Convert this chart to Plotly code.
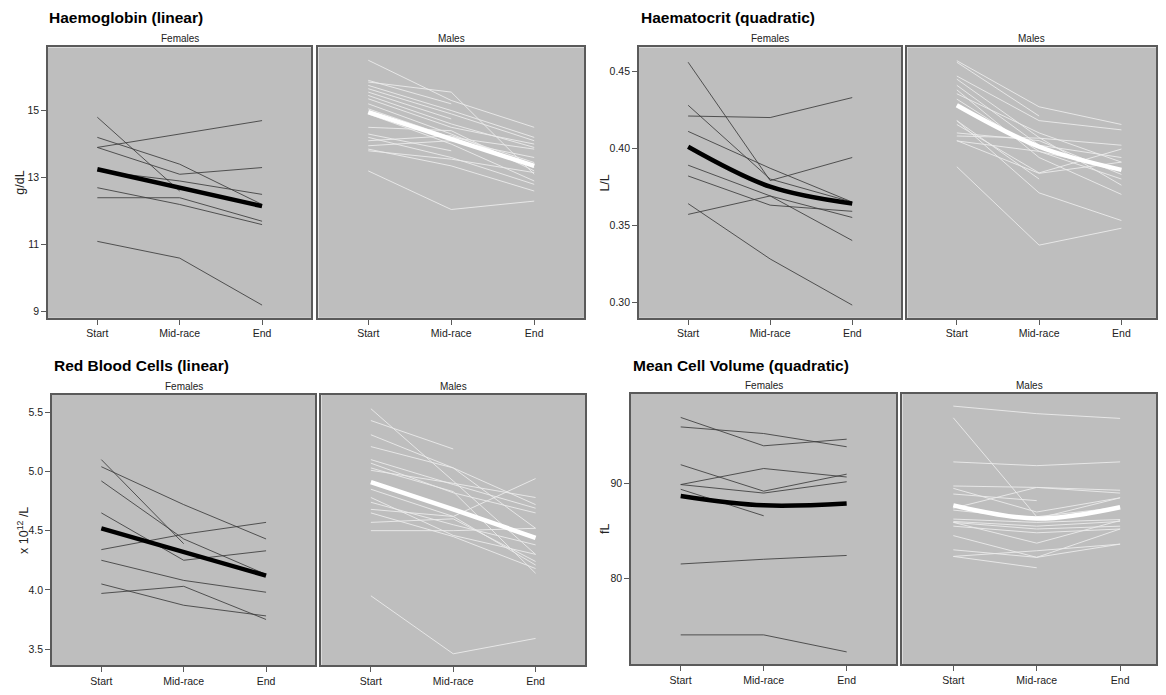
import plotly.graph_objects as go

# The page body has an 8px margin, so the figure is sized to fit the window
# and every pixel position below is given in window pixels, then shifted.
OFF = 8
W, H = 1166 - 2 * OFF, 695 - 2 * OFF

categories = ["Start", "Mid-race", "End"]

# ---------------- Haemoglobin (g/dL) ----------------
hb_f = [
    [13.9, 14.3, 14.7],
    [14.2, 13.4, 12.2],
    [13.9, 13.1, 13.3],
    [14.8, 12.6, None],
    [13.2, 12.9, 12.5],
    [12.7, 12.2, 11.6],
    [12.4, 12.4, 11.7],
    [11.1, 10.6, 9.2],
]
hb_f_mean = [13.25, 12.7, 12.15]
hb_m = [
    [16.5, 15.3, 14.5],
    [15.9, 15.2, None],
    [15.85, 15.55, 13.1],
    [15.75, 15.0, 14.2],
    [15.65, 14.9, 14.1],
    [15.55, 14.75, None],
    [15.45, 14.6, 13.9],
    [15.35, 14.5, 14.0],
    [15.2, 14.3, 13.3],
    [15.05, 14.2, 13.85],
    [14.9, 14.0, 12.9],
    [14.5, 14.4, 13.2],
    [14.3, 13.8, None],
    [14.2, 13.6, 12.8],
    [14.1, 14.25, 13.45],
    [13.95, 14.1, 13.6],
    [13.85, 13.35, 12.6],
    [13.8, 13.55, 13.15],
    [13.2, 12.05, 12.3],
]
hb_m_mean = [14.95, 14.15, 13.35]
hb_ticks = [9, 11, 13, 15]

# ---------------- Haematocrit (L/L) ----------------
hct_f = [
    [0.456, 0.379, 0.394],
    [0.428, 0.380, 0.365],
    [0.421, 0.420, 0.433],
    [0.411, 0.387, 0.365],
    [0.389, 0.369, 0.340],
    [0.382, 0.363, 0.359],
    [0.357, 0.369, 0.355],
    [0.364, 0.328, 0.298],
]
hct_f_mean = [0.401, 0.375, 0.364]
hct_m = [
    [0.457, 0.427, 0.4155],
    [0.456, 0.421, None],
    [0.447, 0.418, 0.412],
    [0.445, 0.407, 0.376],
    [0.441, 0.402, 0.394],
    [0.438, 0.394, 0.370],
    [0.4355, 0.410, 0.391],
    [0.432, 0.398, 0.380],
    [0.418, 0.371, 0.353],
    [0.418, 0.380, None],
    [0.4155, 0.384, 0.3995],
    [0.410, 0.405, 0.383],
    [0.408, 0.4066, 0.402],
    [0.405, 0.3837, 0.391],
    [0.4048, 0.398, 0.386],
    [0.388, 0.337, 0.348],
]
hct_m_mean = [0.428, 0.401, 0.386]
hct_ticks = [0.30, 0.35, 0.40, 0.45]

# ---------------- Red blood cells (x10^12/L) ----------------
rbc_f = [
    [5.10, 4.39, None],
    [5.04, 4.72, 4.43],
    [4.92, 4.43, 4.13],
    [4.65, 4.25, 4.33],
    [4.34, 4.47, 4.57],
    [4.25, 4.08, 3.98],
    [4.05, 3.87, 3.78],
    [3.97, 4.03, 3.75],
]
rbc_f_mean = [4.52, 4.32, 4.12]
rbc_m = [
    [5.53, 4.92, 4.30],
    [5.43, 5.19, None],
    [5.31, 5.03, 4.72],
    [5.21, 5.03, 4.52],
    [5.10, 4.89, 4.69],
    [5.07, 4.82, 4.65],
    [5.03, 4.83, 4.14],
    [5.01, 4.90, 4.78],
    [4.85, 4.62, 4.21],
    [4.78, 4.46, 4.30],
    [4.74, 4.55, 4.38],
    [4.68, 4.62, 4.94],
    [4.65, 4.45, 4.18],
    [4.57, 4.60, 4.24],
    [4.50, 4.50, 4.52],
    [3.95, 3.46, 3.59],
]
rbc_m_mean = [4.91, 4.68, 4.44]
rbc_ticks = [3.5, 4.0, 4.5, 5.0, 5.5]

# ---------------- Mean cell volume (fL) ----------------
mcv_f = [
    [97.0, 94.0, 94.7],
    [96.0, 95.3, 93.9],
    [92.0, 89.2, 91.0],
    [89.9, 91.6, 90.7],
    [89.9, 89.0, 90.2],
    [89.4, 86.6, None],
    [81.5, 82.0, 82.4],
    [74.0, 74.0, 72.2],
]
mcv_f_mean = [88.7, 87.7, 87.9]
mcv_m = [
    [98.2, 97.4, 96.9],
    [96.96, 86.5, 87.5],
    [92.3, 91.9, 92.3],
    [89.75, 89.6, 89.0],
    [89.5, 87.0, 88.5],
    [88.9, 88.2, None],
    [87.4, 89.6, 89.3],
    [87.2, 86.3, 88.5],
    [86.25, 85.9, 86.2],
    [86.0, 85.5, 86.0],
    [85.9, 85.2, 85.5],
    [85.9, 83.7, 86.1],
    [85.5, 84.8, 85.2],
    [84.5, 82.2, 85.2],
    [83.0, 82.2, 83.6],
    [82.3, 82.9, 83.6],
    [82.3, 81.1, None],
]
mcv_m_mean = [87.7, 86.3, 87.5]
mcv_ticks = [80, 90]

# ---------------- Styling / layout ----------------
BG = "#bebebe"
AXCOL = "#5a5a5a"
TXT = "#222222"
FONT = "Liberation Sans, Arial, sans-serif"

panels = [
    dict(title="Haemoglobin (linear)", ylab="g/dL", yr=[8.82, 16.88], ticks=hb_ticks, fmt="d",
         f=hb_f, fm=hb_f_mean, m=hb_m, mm=hb_m_mean, shape="linear",
         fbox=(48, 312, 48, 322), mbox=(319, 585, 48, 322), xr_f=[-0.6, 2.6], xr_m=[-0.6, 2.6],
         tx=47, ty=18, stripy=39, ylx=20),
    dict(title="Haematocrit (quadratic)", ylab="L/L", yr=[0.2897, 0.4656], ticks=hct_ticks, fmt=".2f",
         f=hct_f, fm=hct_f_mean, m=hct_m, mm=hct_m_mean, shape="spline",
         fbox=(640, 903, 48, 322), mbox=(909, 1158, 48, 322), xr_f=[-0.6, 2.6], xr_m=[-0.6, 2.42],
         tx=640, ty=18, stripy=39, ylx=606),
    dict(title="Red Blood Cells (linear)", ylab="x 10<sup>12</sup> /L", yr=[3.364, 5.6475], ticks=rbc_ticks, fmt=".1f",
         f=rbc_f, fm=rbc_f_mean, m=rbc_m, mm=rbc_m_mean, shape="linear",
         fbox=(52, 316, 400, 674), mbox=(322, 586, 400, 674), xr_f=[-0.6, 2.6], xr_m=[-0.6, 2.6],
         tx=52, ty=370, stripy=392, ylx=23),
    dict(title="Mean Cell Volume (quadratic)", ylab="fL", yr=[70.9, 99.5], ticks=mcv_ticks, fmt="d",
         f=mcv_f, fm=mcv_f_mean, m=mcv_m, mm=mcv_m_mean, shape="spline",
         fbox=(632, 898, 399, 673), mbox=(904, 1158, 399, 673), xr_f=[-0.6, 2.6], xr_m=[-0.61, 2.43],
         tx=632, ty=370, stripy=391, ylx=606),
]

fig = go.Figure()
layout = dict(
    width=W, height=H,
    margin=dict(l=0, r=0, t=0, b=0),
    paper_bgcolor="white", plot_bgcolor=BG,
    showlegend=False,
    font=dict(family=FONT, color=TXT),
    annotations=[],
)


def fx(px):
    return min(max((px - OFF) / W, 0.0), 1.0)


def fy(py):
    return min(max(1 - (py - OFF) / H, 0.0), 1.0)


ax = 0
for p in panels:
    for sex in ("f", "m"):
        ax += 1
        xa = "x" if ax == 1 else f"x{ax}"
        ya = "y" if ax == 1 else f"y{ax}"
        box = p["fbox"] if sex == "f" else p["mbox"]
        lines = p["f"] if sex == "f" else p["m"]
        mean = p["fm"] if sex == "f" else p["mm"]
        lcol = "rgba(60,60,60,0.85)" if sex == "f" else "rgba(235,235,235,0.9)"
        mcol = "black" if sex == "f" else "white"
        for ln in lines:
            fig.add_trace(go.Scatter(x=categories, y=ln, mode="lines", xaxis=xa, yaxis=ya,
                                     line=dict(color=lcol, width=1), hoverinfo="skip"))
        fig.add_trace(go.Scatter(x=categories, y=mean, mode="lines", xaxis=xa, yaxis=ya,
                                 line=dict(color=mcol, width=4.5, shape=p["shape"], smoothing=1.0),
                                 hoverinfo="skip"))
        xkey = "xaxis" if ax == 1 else f"xaxis{ax}"
        ykey = "yaxis" if ax == 1 else f"yaxis{ax}"
        layout[xkey] = dict(
            domain=[fx(box[0]), fx(box[1])], anchor=ya, type="category",
            categoryorder="array", categoryarray=categories,
            range=p["xr_f"] if sex == "f" else p["xr_m"],
            showline=True, mirror=True, linecolor=AXCOL, linewidth=1.5,
            ticks="outside", ticklen=5, tickcolor=AXCOL, tickwidth=1,
            tickfont=dict(size=10.5, family=FONT, color=TXT),
            showgrid=False, zeroline=False, fixedrange=True,
        )
        yax = dict(
            domain=[fy(box[3]), fy(box[2])], anchor=xa, range=p["yr"],
            showline=True, mirror=True, linecolor=AXCOL, linewidth=1.5,
            showgrid=False, zeroline=False, fixedrange=True,
        )
        if sex == "f":
            yax.update(tickmode="array", tickvals=p["ticks"], tickformat=p["fmt"],
                       ticks="outside", ticklen=5, tickcolor=AXCOL, tickwidth=1,
                       tickfont=dict(size=10.5, family=FONT, color=TXT))
        else:
            yax.update(showticklabels=False, ticks="")
        layout[ykey] = yax
        layout["annotations"].append(dict(
            text="Females" if sex == "f" else "Males",
            x=(fx(box[0]) + fx(box[1])) / 2, y=fy(p["stripy"]),
            xref="paper", yref="paper", xanchor="center", yanchor="middle",
            showarrow=False, font=dict(size=10, family=FONT, color=TXT)))
    layout["annotations"].append(dict(
        text=f"<b>{p['title']}</b>", x=fx(p["tx"]), y=fy(p["ty"]),
        xref="paper", yref="paper", xanchor="left", yanchor="middle",
        showarrow=False, font=dict(size=15.5, family=FONT, color="black")))
    fb = p["fbox"]
    layout["annotations"].append(dict(
        text=p["ylab"], x=fx(p["ylx"]), y=fy((fb[2] + fb[3]) / 2),
        xref="paper", yref="paper", xanchor="center", yanchor="middle", textangle=-90,
        showarrow=False, font=dict(size=12.5, family=FONT, color=TXT)))

fig.update_layout(**layout)
fig.write_html("out.html")
